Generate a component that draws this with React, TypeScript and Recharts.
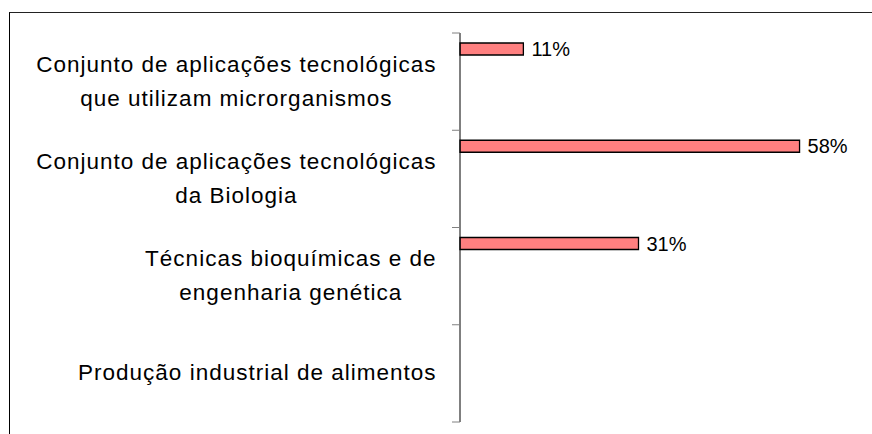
import { BarChart, Bar, XAxis, YAxis, LabelList } from "recharts"

const categories = [
  "Conjunto de aplicações tecnológicas que utilizam microrganismos",
  "Conjunto de aplicações tecnológicas da Biologia",
  "Técnicas bioquímicas e de engenharia genética",
  "Produção industrial de alimentos",
]

// wrapped tick labels, one array of lines per category
const categoryLines = [
  ["Conjunto de aplicações tecnológicas", "que utilizam microrganismos"],
  ["Conjunto de aplicações tecnológicas", "da Biologia"],
  ["Técnicas bioquímicas e de", "engenharia genética"],
  ["Produção industrial de alimentos"],
]

// percent of answers, top to bottom
const shares: (number | null)[] = [10.9, 58.4, 30.7, null]

const data = categories.map((name, i) => ({ name, share: shares[i] }))

const FONT = "'Liberation Sans', Arial, sans-serif"
const W = 872
const H = 434
const AXIS_X = 460
const PLOT_TOP = 33
const PLOT_BOTTOM = 422
const TICK_FONT = 22.5
const TICK_SPACING = 1
const LINE_H = 34

let ctx: CanvasRenderingContext2D | null = null
const textWidth = (s: string) => {
  if (!ctx) {
    ctx = document.createElement("canvas").getContext("2d")
  }
  if (!ctx) return s.length * TICK_FONT * 0.5
  ctx.font = `${TICK_FONT}px ${FONT}`
  return ctx.measureText(s).width + TICK_SPACING * (s.length - 1)
}

const CategoryTick = (props: any) => {
  const { y, payload } = props
  const idx = categories.indexOf(payload.value)
  const lines = categoryLines[idx] || [String(payload.value)]
  const band = (PLOT_BOTTOM - PLOT_TOP) / categories.length
  const maxW = Math.max(...lines.map(textWidth))
  const cx = AXIS_X - 24 - maxW / 2
  const first = y - ((lines.length - 1) * LINE_H) / 2 + 7
  return (
    <g>
      <line x1={AXIS_X - 8} x2={AXIS_X} y1={y - band / 2} y2={y - band / 2} stroke="#808080" strokeWidth={1} />
      {idx === categories.length - 1 && (
        <line x1={AXIS_X - 8} x2={AXIS_X} y1={y + band / 2} y2={y + band / 2} stroke="#808080" strokeWidth={1} />
      )}
      {lines.map((line, i) => (
        <text
          key={i}
          x={cx}
          y={first + i * LINE_H}
          textAnchor="middle"
          fontFamily={FONT}
          fontSize={TICK_FONT}
          letterSpacing={TICK_SPACING}
          fill="#000"
        >
          {line}
        </text>
      ))}
    </g>
  )
}

export default function App() {
  return (
    <div style={{ position: "relative", width: W, height: H, overflow: "hidden", background: "#fff" }}>
      <style>{"body{margin:0}"}</style>
      <div
        style={{
          position: "absolute",
          left: 9,
          top: 12,
          width: W + 20,
          height: H + 20,
          borderTop: "1.5px solid #222",
          borderLeft: "1px solid #000",
        }}
      />
      <div style={{ position: "absolute", left: 0, top: 0 }}>
        <BarChart
          width={W}
          height={H}
          data={data}
          layout="vertical"
          margin={{ top: PLOT_TOP, right: 5, bottom: H - PLOT_BOTTOM, left: 0 }}
          barGap={0}
          barCategoryGap={0}
        >
          <XAxis type="number" domain={[0, 70]} hide />
          <YAxis
            type="category"
            dataKey="name"
            width={AXIS_X}
            axisLine={{ stroke: "#000", strokeWidth: 1 }}
            tickLine={false}
            interval={0}
            tick={<CategoryTick />}
          />
          <Bar dataKey="share" barSize={12} fill="#FF8080" stroke="#000" strokeWidth={1.3} isAnimationActive={false}>
            <LabelList
              dataKey="share"
              position="right"
              offset={8}
              formatter={(v: any) => (v == null ? "" : `${Math.round(v)}%`)}
              fill="#000"
              fontSize={20}
              fontFamily={FONT}
            />
          </Bar>
          <Bar dataKey="pad" barSize={65} fill="none" isAnimationActive={false} />
        </BarChart>
      </div>
    </div>
  )
}
